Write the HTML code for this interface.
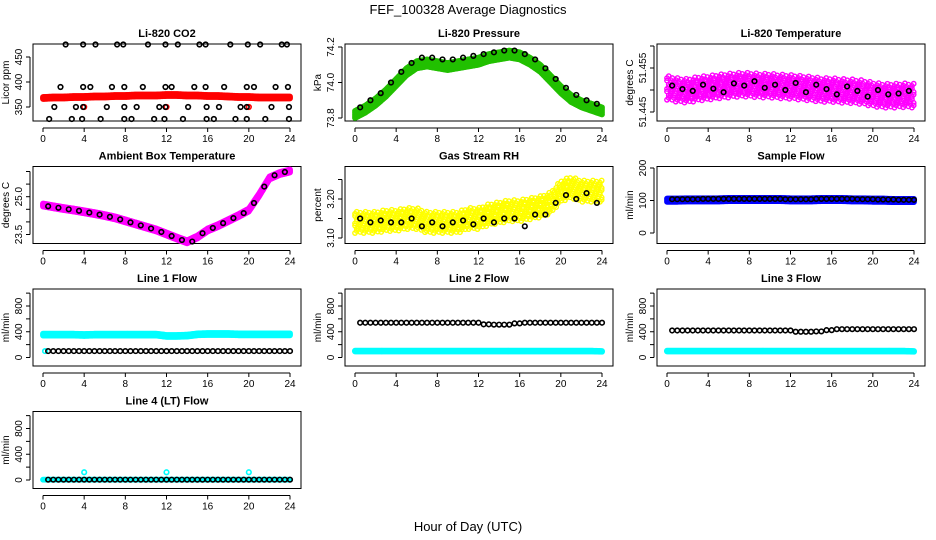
<!DOCTYPE html>
<html><head><meta charset="utf-8"><style>
html,body{margin:0;padding:0;background:#fff;width:936px;height:540px;overflow:hidden}
svg{display:block;font-family:"Liberation Sans",sans-serif}
</style></head><body>
<svg id="chart" width="936" height="540" viewBox="0 0 936 540">
<text x="468" y="14" text-anchor="middle" font-size="13">FEF_100328  Average Diagnostics</text>
<text x="468" y="531" text-anchor="middle" font-size="13">Hour of Day (UTC)</text>
</svg>
<script>
// ---- data ----
const xTicks = [0,4,8,12,16,20,24];
const co2Red = [368,369,369,370,370,371,371,372,372,373,373,373,374,374,373,373,372,372,371,370,370,369,369,369,369];
const co2RedSpikeHours = [4,12,20];
const co2RedSpikeVals = [350,350,350];
const co2BlackHours = [2.2,3.9,5.1,7.2,7.8,10.2,11.9,13.1,15.2,15.8,18.2,19.9,21.1,23.2,23.7,
 1.7,3.9,4.6,6.7,7.9,9.7,11.9,12.5,14.7,15.8,17.6,19.8,20.5,22.6,23.8,
 1.1,3.2,3.9,6.2,7.9,9.1,11.3,11.9,14.1,15.9,17.1,19.2,19.8,22.2,23.9,
 0.6,2.8,3.8,5.6,7.9,8.6,10.8,11.8,13.6,15.9,16.6,18.7,19.8,21.6,23.9];
const co2BlackVals = [475,475,475,475,475,475,475,475,475,475,475,475,475,475,475,
 390,390,390,390,390,390,390,390,390,390,390,390,390,390,390,
 350,350,350,350,350,350,350,350,350,350,350,350,350,350,350,
 326,326,326,326,326,326,326,326,326,326,326,326,326,326,326];
const pressGreen = [73.82,73.85,73.89,73.94,74.00,74.06,74.10,74.11,74.10,74.09,74.10,74.11,74.12,74.14,74.15,74.16,74.15,74.12,74.08,74.02,73.96,73.91,73.88,73.86,73.84];
const pressBlack = [73.86,73.9,73.94,74.0,74.06,74.11,74.14,74.14,74.13,74.13,74.14,74.15,74.16,74.17,74.18,74.18,74.16,74.13,74.08,74.02,73.97,73.93,73.9,73.88];
const tempMagenta = [51.4505,51.4500,51.4498,51.4503,51.4505,51.4508,51.4510,51.4512,51.4512,51.4510,51.4510,51.4508,51.4507,51.4505,51.4503,51.4500,51.4500,51.4498,51.4497,51.4495,51.4490,51.4487,51.4487,51.4488,51.4487];
const tempBlack = [51.4510,51.4502,51.4498,51.4512,51.4503,51.4495,51.4515,51.4510,51.4520,51.4505,51.4512,51.4500,51.4516,51.4495,51.4512,51.4502,51.4490,51.4508,51.4498,51.4485,51.4500,51.4490,51.4492,51.4498];
const ambMagenta = [24.67,24.6,24.53,24.47,24.40,24.33,24.25,24.16,24.04,23.92,23.80,23.68,23.52,23.36,23.21,23.40,23.68,23.85,24.05,24.25,24.47,25.07,25.74,25.92,26.02];
const ambBlack = [24.62,24.56,24.5,24.44,24.37,24.29,24.2,24.1,23.98,23.86,23.74,23.6,23.44,23.28,23.22,23.55,23.76,23.95,24.15,24.35,24.75,25.4,25.85,25.98];
const rhYellow = [3.14,3.14,3.14,3.145,3.145,3.15,3.15,3.14,3.14,3.14,3.14,3.15,3.15,3.16,3.165,3.17,3.17,3.175,3.18,3.19,3.22,3.23,3.22,3.22,3.22];
const rhBlack = [3.15,3.14,3.145,3.14,3.14,3.15,3.13,3.14,3.13,3.14,3.145,3.135,3.15,3.14,3.15,3.15,3.13,3.16,3.16,3.19,3.21,3.2,3.215,3.19];
const sampleBlue = [101,101,102,102,102,102,103,103,103,103,103,103,102,102,102,103,103,103,102,102,101,101,100,100,100];
const sampleBlack = [104,104,104,105,105,105,105,105,105,105,105,104,104,104,105,105,105,105,104,104,103,103,102,102];
const line1Cyan = [355,355,355,355,350,355,355,355,355,355,355,355,335,335,340,360,365,365,365,360,360,360,360,360,360];
const line1Black = [100,100,100,100,100,100,100,100,100,100,100,100,100,100,100,100,100,100,100,100,100,100,100,100];
const line2Cyan = [100,100,100,100,100,100,100,100,100,100,100,100,100,100,100,100,100,100,100,100,100,100,100,100,95];
const line2Black = [540,540,540,540,540,540,540,540,540,540,540,540,515,510,510,530,540,540,540,540,540,540,540,540];
const line3Cyan = [100,100,100,100,100,100,100,100,100,100,100,100,100,100,100,100,100,100,100,100,100,100,100,100,95];
const line3Black = [420,420,420,420,420,420,420,420,420,420,420,420,400,400,405,425,440,440,440,440,440,440,440,440];
const line4Cyan = [5,5,5,5,5,5,5,5,5,5,5,5,5,5,5,5,5,5,5,5,5,5,5,5,5];
const line4Black = [5,5,5,5,5,5,5,5,5,5,5,5,5,5,5,5,5,5,5,5,5,5,5,5];
const cyanSpikeHours = [4,12,20];
const cyanSpikeVals = [120,120,120];

// ---- layout ----
const NS="http://www.w3.org/2000/svg";
const svg=document.getElementById('chart');
function el(tag,attrs,parent){const e=document.createElementNS(NS,tag);for(const k in attrs)e.setAttribute(k,attrs[k]);(parent||svg).appendChild(e);return e;}
const colL=[33,345,657];
const rowT=[44,166.5,289,411.5];
function panel(col,row,title,ylab,v1,p1,v2,p2,ticks,labels,name){
  const L=colL[col],R=L+268,T=rowT[row],B=T+77;
  const g=el('g',{});
  
  
  const x0=L+10,x24=L+257;
  const P={L,R,T,B,g,x:h=>x0+h*(x24-x0)/24,y:v=>p1+(v-v1)*(p2-p1)/(v2-v1)};
  const box=el('rect',{x:L,y:T,width:R-L,height:B-T,fill:'none',stroke:'#000','stroke-width':1},g);
  
  
  const t=el('text',{x:(L+R)/2,y:T-7,'text-anchor':'middle','font-size':11,'font-weight':'bold'},g);t.textContent=title;
  
  
  const xa=el('g',{},g);
  
  
  const ay=B+7;
  el('line',{x1:P.x(0),x2:P.x(24),y1:ay,y2:ay,stroke:'#000'},xa);
  xTicks.forEach(h=>{el('line',{x1:P.x(h),x2:P.x(h),y1:ay,y2:ay+4,stroke:'#000'},xa);
    const tt=el('text',{x:P.x(h),y:B+21,'text-anchor':'middle','font-size':10},xa);tt.textContent=h;});
  const ya=el('g',{},g);
  
  
  const axX=L-3;
  el('line',{x1:axX,x2:axX,y1:P.y(ticks[0]),y2:P.y(ticks[ticks.length-1]),stroke:'#000'},ya);
  ticks.forEach((v,i)=>{const py=P.y(v);el('line',{x1:axX-4,x2:axX,y1:py,y2:py,stroke:'#000'},ya);
    if(labels[i]){const tt=el('text',{x:L-11,y:py,'text-anchor':'middle','font-size':10,transform:`rotate(-90 ${L-11} ${py})`},ya);tt.textContent=labels[i];}});
  const yt=el('text',{x:L-24,y:(T+B)/2,'text-anchor':'middle','font-size':10,transform:`rotate(-90 ${L-24} ${(T+B)/2})`},g);yt.textContent=ylab;
  
  
  return P;
}
function pt(P,h,v,color,nm){const c=el('circle',{cx:P.x(h),cy:P.y(v),r:2.3,fill:'none',stroke:color,'stroke-width':1.6},P.g);
  
  return c;}
function band(P,center,spread,color,nm,rows,step){
  const gg=el('g',{},P.g);
  
  
  const offs=rows||[-1,-0.5,0,0.5,1];
  const st=step||0.1;
  let n=0;
  for(let h=0;h<=24.001;h+=st){
    const i=Math.min(23,Math.floor(h)),f=h-i;
    const c=center[i]*(1-f)+center[i+1]*f;
    offs.forEach((o,j)=>{const jig=(step?((n*7+j*3)%5-2)*0.12:0);
      el('circle',{cx:P.x(h),cy:P.y(c+(o+jig)*spread),r:2.2,fill:'none',stroke:color,'stroke-width':1.4},gg);});
    n++;
  }
}
function blackHalf(P,vals,nm){vals.forEach((v,i)=>{pt(P,i+0.5,v,'#000',nm);pt(P,i+1,v,'#000',nm);});}

let P=panel(0,0,'Li-820 CO2','Licor ppm',350,107,400,82,[350,400,450],['350','400','450'],'co2-panel');
band(P,co2Red,2,'#f00','co2-red-series',[-1,0,1]);
co2RedSpikeHours.forEach((h,i)=>pt(P,h,co2RedSpikeVals[i],'#f00','co2-red-spike'));
co2BlackHours.forEach((h,i)=>pt(P,h,co2BlackVals[i],'#000','co2-black-point'));

P=panel(1,0,'Li-820 Pressure','kPa',73.8,118,74.2,47,[73.8,74.0,74.2],['73.8','74.0','74.2'],'pressure-panel');
band(P,pressGreen,0.02,'#22c000','pressure-green-series');
pressBlack.forEach((v,i)=>pt(P,i+0.5,v,'#000','pressure-black-point'));

P=panel(2,0,'Li-820 Temperature','degrees C',51.445,112,51.455,68,[51.445,51.450,51.455,51.460],['51.445','','51.455',''],'temperature-panel');
band(P,tempMagenta,0.0022,'#f0f','temperature-magenta-series',[-1,-0.5,0,0.5,1],0.17);
tempBlack.forEach((v,i)=>pt(P,i+0.5,v,'#000','temperature-black-point'));

P=panel(0,1,'Ambient Box Temperature','degrees C',23.5,234.5,25.0,196.7,[23.5,24.0,24.5,25.0,25.5,26.0],['23.5','','','25.0','',''],'ambient-panel');
band(P,ambMagenta,0.06,'#f0f','ambient-magenta-series');
ambBlack.forEach((v,i)=>pt(P,i+0.5,v,'#000','ambient-black-point'));

P=panel(1,1,'Gas Stream RH','percent',3.10,238,3.20,199,[3.10,3.15,3.20,3.25],['3.10','','3.20',''],'rh-panel');
band(P,rhYellow,0.022,'#ff0','rh-yellow-series',[-1,-0.5,0,0.5,1],0.17);
rhBlack.forEach((v,i)=>pt(P,i+0.5,v,'#000','rh-black-point'));

P=panel(2,1,'Sample Flow','ml/min',0,233,200,168,[0,100,200],['0','100','200'],'sample-flow-panel');
band(P,sampleBlue,5,'#0000ff','sample-blue-series',[-1,0,1]);
blackHalf(P,sampleBlack,'sample-black-point');

const fT=[0,200,400,600,800,1000],fL=['0','','400','','800',''];
P=panel(0,2,'Line 1 Flow','ml/min',0,357.5,800,306,fT,fL,'line1-panel');
band(P,line1Cyan,15,'#0ff','line1-cyan-series',[-1,0,1]);
pt(P,0.2,100,'#0ff','line1-cyan-low');
blackHalf(P,line1Black,'line1-black-point');
P=panel(1,2,'Line 2 Flow','ml/min',0,357.5,800,306,fT,fL,'line2-panel');
band(P,line2Cyan,6,'#0ff','line2-cyan-series',[-1,0,1]);
blackHalf(P,line2Black,'line2-black-point');
P=panel(2,2,'Line 3 Flow','ml/min',0,357.5,800,306,fT,fL,'line3-panel');
band(P,line3Cyan,6,'#0ff','line3-cyan-series',[-1,0,1]);
blackHalf(P,line3Black,'line3-black-point');
P=panel(0,3,'Line 4 (LT) Flow','ml/min',0,480,800,428.5,fT,fL,'line4-panel');
band(P,line4Cyan,0,'#0ff','line4-cyan-series',[0]);
cyanSpikeHours.forEach((h,i)=>pt(P,h,cyanSpikeVals[i],'#0ff','line4-cyan-spike'));
blackHalf(P,line4Black,'line4-black-point');
</script>
</body></html>
